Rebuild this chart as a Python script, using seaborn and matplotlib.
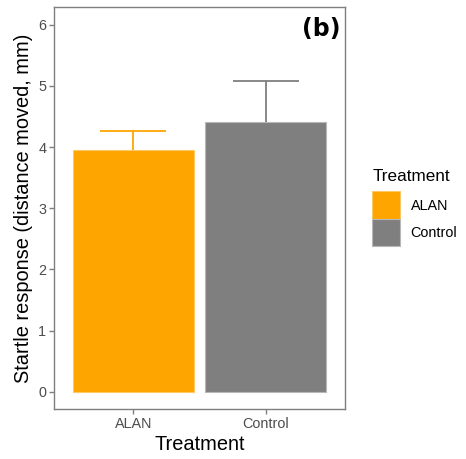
import numpy as np
import pandas as pd
import matplotlib
matplotlib.use("Agg")
import matplotlib.pyplot as plt
import seaborn as sns
from matplotlib.patches import Patch

# data
treatment = ["ALAN", "Control"]
startle_mean = [3.95, 4.41]
startle_upper = [4.27, 5.08]
bar_colors = ["#FFA500", "#7F7F7F"]
edge_colors = ["#FFC866", "#B8B8B8"]

df = pd.DataFrame({"Treatment": treatment, "Startle": startle_mean})

sns.set_style("white")
plt.rcParams["font.family"] = ["Liberation Sans", "DejaVu Sans"]

W, H = 466, 459
fig = plt.figure(figsize=(W / 100, H / 100), dpi=100)
ax = fig.add_axes([54 / W, (H - 409) / H, (345 - 54) / W, (409 - 7) / H])

palette = dict(zip(treatment, bar_colors))
sns.barplot(data=df, x="Treatment", y="Startle", hue="Treatment",
            palette=palette, width=0.91, legend=False, ax=ax,
            edgecolor="none", saturation=1, zorder=3)

# light outlines like the original
for p, c in zip(ax.patches, edge_colors):
    p.set_edgecolor(c)
    p.set_linewidth(0.8)

# upper-only error bars, behind the bars
cap = 0.25
for i, (m, u, c) in enumerate(zip(startle_mean, startle_upper, bar_colors)):
    ax.vlines(i, m, u, color=c, linewidth=1.3, zorder=2)
    ax.hlines(u, i - cap, i + cap, color=c, linewidth=1.3, zorder=2)

ax.set_xlim(-0.6, 1.6)
ax.set_ylim(-0.28, 6.29)
ax.set_yticks(range(0, 7))
ax.set_xlabel("Treatment", fontsize=14.4, color="black", labelpad=3)
ax.set_ylabel("Startle response (distance moved, mm)", fontsize=14.4,
              color="black", labelpad=4)

for s in ax.spines.values():
    s.set_visible(True)
    s.set_color("#7F7F7F")
    s.set_linewidth(1.0)
ax.tick_params(axis="both", which="both", direction="out", length=3.5,
               width=1.0, color="#7F7F7F", labelcolor="#4D4D4D",
               labelsize=10.4, pad=2, bottom=True, left=True)

ax.text(0.985, 0.975, "(b)", transform=ax.transAxes, ha="right", va="top",
        fontsize=17, fontweight="bold", family="DejaVu Sans", color="black")

handles = [Patch(facecolor=c, edgecolor=e, linewidth=0.8)
           for c, e in zip(bar_colors, edge_colors)]
leg = fig.legend(handles, treatment, title="Treatment",
                 loc="upper left", bbox_to_anchor=(368 / W, 1 - 165 / H),
                 frameon=False, fontsize=10.4, title_fontsize=12.3,
                 handlelength=1.9, handleheight=2.6, labelspacing=-0.05,
                 handletextpad=0.75, borderpad=0.3, borderaxespad=0)
leg._legend_box.align = "left"
leg._legend_box.sep = 5
leg.get_title().set_color("black")
for t in leg.get_texts():
    t.set_color("black")

fig.savefig("out.png", dpi=100)
